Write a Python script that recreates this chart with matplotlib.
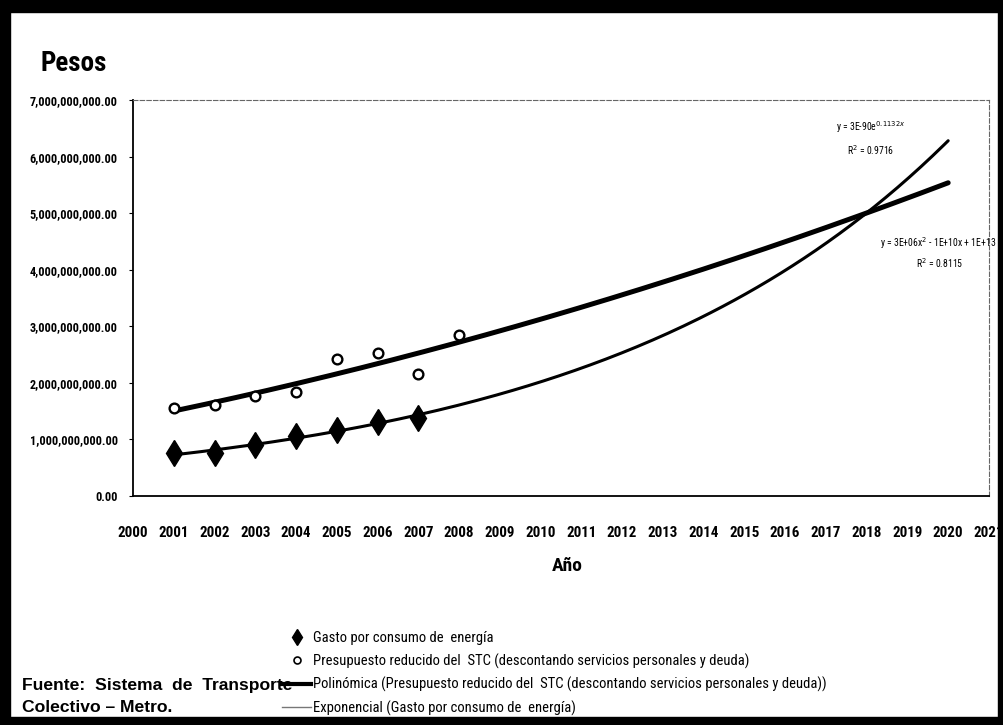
import numpy as np
import matplotlib
matplotlib.use("Agg")
import matplotlib.pyplot as plt
from matplotlib import font_manager
from matplotlib.ticker import FuncFormatter
from matplotlib.lines import Line2D
from matplotlib.patches import Rectangle

# datos (pesos)
years_gasto = [2001, 2002, 2003, 2004, 2005, 2006, 2007]
gasto = [0.75e9, 0.76e9, 0.90e9, 1.06e9, 1.17e9, 1.31e9, 1.38e9]

years_pres = [2001, 2002, 2003, 2004, 2005, 2006, 2007, 2008]
presupuesto = [1.56e9, 1.61e9, 1.76e9, 1.83e9, 2.42e9, 2.52e9, 2.15e9, 2.85e9]

trend_start = 2001
trend_end = 2020
x_ticks = list(range(2000, 2022))
y_ticks = [0, 1e9, 2e9, 3e9, 4e9, 5e9, 6e9, 7e9]

labels = ['Gasto por consumo de  energía',
          'Presupuesto reducido del  STC (descontando servicios personales y deuda)',
          'Polinómica (Presupuesto reducido del  STC (descontando servicios personales y deuda))',
          'Exponencial (Gasto por consumo de  energía)']
eq_exp = ['y = 3E-90e$^{0.1132x}$', 'R$^2$ = 0.9716']
eq_pol = ['y = 3E+06x$^2$ - 1E+10x + 1E+13', 'R$^2$ = 0.8115']
fuente = ['Fuente:  Sistema  de  Transporte', 'Colectivo – Metro.']

# la grafica original usa una letra angosta (tipo Arial Narrow)
names = {f.name for f in font_manager.fontManager.ttflist}
narrow = None
for cand in ['Liberation Sans Narrow', 'Roboto Condensed', 'Noto Sans Condensed',
             'Open Sans Condensed', 'Arial Narrow']:
    if cand in names:
        narrow = cand
        break
if narrow is None:
    narrow = 'Liberation Sans'
    k = 0.82   # achicar para que ocupe el mismo ancho
else:
    k = 1.0
plt.rcParams['font.family'] = [narrow, 'DejaVu Sans']

# lineas de tendencia (ajuste sobre los datos, como Excel)
xs = np.linspace(trend_start, trend_end, 200)
pol = np.polyfit(np.array(years_pres) - 2000, presupuesto, 2)
pol_y = np.polyval(pol, xs - 2000)
ex = np.polyfit(np.array(years_gasto) - 2000, np.log(gasto), 1)
exp_y = np.exp(np.polyval(ex, xs - 2000))

fig = plt.figure(figsize=(10.04, 7.25), dpi=100)
ax = fig.add_axes([0.1325, 0.316, 0.8525, 0.546])

ax.plot(xs, pol_y, color='black', lw=3.6, solid_capstyle='round')
ax.plot(xs, exp_y, color='black', lw=2.2, solid_capstyle='round')
ax.plot(years_gasto, gasto, 'd', color='black', ms=13)
ax.plot(years_pres, presupuesto, 'o', mfc='white', mec='black', mew=1.7, ms=7)

ax.set_xlim(2000, 2021)
ax.set_ylim(0, 7e9)
ax.set_xticks(x_ticks)
ax.set_yticks(y_ticks)
ax.yaxis.set_major_formatter(FuncFormatter(lambda v, p: '{:,.2f}'.format(v)))
ax.tick_params(axis='x', length=0, pad=22, labelsize=10.8 * k)
ax.tick_params(axis='y', length=3, pad=8, labelsize=8.8 * k)
for lab in ax.get_xticklabels() + ax.get_yticklabels():
    lab.set_fontweight('bold')

ax.spines['left'].set_linewidth(1.3)
ax.spines['bottom'].set_linewidth(1.3)
for s in ['top', 'right']:
    ax.spines[s].set_linewidth(0.8)
    ax.spines[s].set_linestyle((0, (4, 2)))
    ax.spines[s].set_color('#666666')

# ecuaciones de las tendencias
ax.text(2018.1, 6.52e9, eq_exp[0], fontsize=7 * k, ha='center', va='center')
ax.text(2018.1, 6.11e9, eq_exp[1], fontsize=7 * k, ha='center', va='center')
ax.text(2019.75, 4.47e9, eq_pol[0], fontsize=7 * k, ha='center', va='center')
ax.text(2019.8, 4.12e9, eq_pol[1], fontsize=7 * k, ha='center', va='center')

fig.text(0.04, 0.912, 'Pesos', fontsize=19.5 * k, fontweight='bold', va='center')
fig.text(0.565, 0.219, 'Año', fontsize=14 * k, fontweight='bold', ha='center', va='center')

handles = [Line2D([], [], ls='none', marker='d', color='black', ms=8),
           Line2D([], [], ls='none', marker='o', mfc='white', mec='black', mew=1.2, ms=5),
           Line2D([], [], color='black', lw=3),
           Line2D([], [], color='#777777', lw=1)]
leg_fs = 10.55 * k
leg_px = leg_fs * 100 / 72
fig.legend(handles, labels, loc='upper left', bbox_to_anchor=(0.281, 0.129),
           frameon=False, fontsize=leg_fs, handlelength=2.0, handletextpad=0.12,
           labelspacing=23.7 / leg_px - 1.07, borderaxespad=0, borderpad=0)

# fuente de los datos, abajo a la izquierda
fig.text(0.022, 0.0545, fuente[0], family=['Liberation Sans', 'DejaVu Sans'],
         fontsize=12.6, fontweight='bold', va='center')
fig.text(0.022, 0.0235, fuente[1], family=['Liberation Sans', 'DejaVu Sans'],
         fontsize=12.6, fontweight='bold', va='center')

# marco negro del escaneo
for r in [(0, 0, 0.010, 1), (0, 0.983, 1, 0.017), (0.994, 0, 0.006, 1), (0, 0, 1, 0.011)]:
    fig.add_artist(Rectangle(r[:2], r[2], r[3], transform=fig.transFigure,
                             color='black', zorder=10))

fig.savefig('out.png', dpi=100)
